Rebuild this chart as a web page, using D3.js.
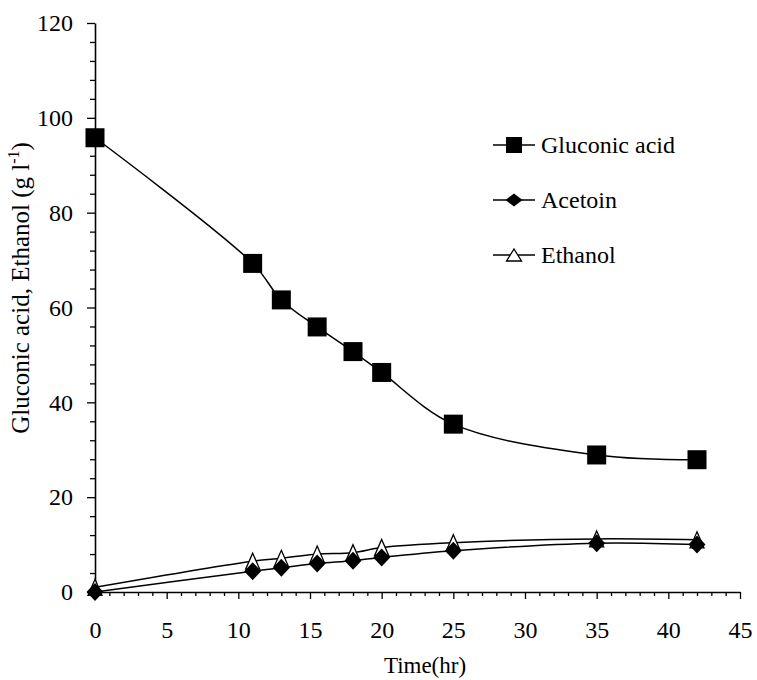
<!DOCTYPE html>
<html>
<head>
<meta charset="utf-8">
<script src="https://cdn.jsdelivr.net/npm/d3@7"></script>
</head>
<body style="margin:0;padding:0;background:#fff">
<svg id="chart" width="757" height="680" style="display:block"></svg>
<script>
// ---- data ----
const time = [0, 11, 13, 15.5, 18, 20, 25, 35, 42];
const gluconic = [95.8, 69.3, 61.6, 55.9, 50.7, 46.3, 35.4, 28.9, 27.9];
const acetoin = [0, 4.4, 5.1, 6.0, 6.6, 7.3, 8.7, 10.3, 10.0];
const ethanol = [1.0, 6.5, 7.1, 8.0, 8.3, 9.4, 10.4, 11.2, 11.0];
const seriesNames = ["Gluconic acid", "Acetoin", "Ethanol"];
const xTicks = [0, 5, 10, 15, 20, 25, 30, 35, 40, 45];
const yTicks = [0, 20, 40, 60, 80, 100, 120];
const xLabel = "Time(hr)";

const FONT = "'Liberation Serif'";
const svg = d3.select("#chart");
const x = d3.scaleLinear().domain([0, 45]).range([95, 740]);
const y = d3.scaleLinear().domain([0, 120]).range([592, 23]);

// minor ticks
const xMinor = d3.range(0, 46, 1).filter(v => v % 5 !== 0);
const yMinor = d3.range(0, 121, 4).filter(v => v % 20 !== 0);

svg.append("g").attr("transform", `translate(0,${y(0)})`)
  .call(d3.axisBottom(x).tickValues(xMinor).tickSize(4).tickFormat(""))
  .call(g => g.select(".domain").remove())
  .call(g => g.selectAll("text").remove())
  .selectAll("line").attr("stroke", "#000").attr("stroke-width", 1.3);

svg.append("g").attr("transform", `translate(${x(0)},0)`)
  .call(d3.axisLeft(y).tickValues(yMinor).tickSize(5).tickFormat(""))
  .call(g => g.select(".domain").remove())
  .call(g => g.selectAll("text").remove())
  .selectAll("line").attr("stroke", "#000").attr("stroke-width", 1.3);

const xAxis = svg.append("g").attr("transform", `translate(0,${y(0)})`)
  .call(d3.axisBottom(x).tickValues(xTicks).tickSize(7).tickSizeOuter(0).tickPadding(22).tickFormat(d3.format("d")));
const yAxis = svg.append("g").attr("transform", `translate(${x(0)},0)`)
  .call(d3.axisLeft(y).tickValues(yTicks).tickSize(8).tickSizeOuter(0).tickPadding(14).tickFormat(d3.format("d")));

[xAxis, yAxis].forEach(g => {
  g.attr("font-family", FONT).attr("font-size", 24);
  g.select(".domain").attr("stroke", "#000").attr("stroke-width", 1.6);
  g.selectAll(".tick line").attr("stroke", "#000").attr("stroke-width", 1.3);
  g.selectAll(".tick text").style("font-family", FONT).style("font-size", "24px").attr("fill", "#000");
});

// axis titles
svg.append("text").attr("x", 425).attr("y", 673).attr("text-anchor", "middle")
  .style("font-family", FONT).style("font-size", "23px").text(xLabel);

const yl = svg.append("text").attr("transform", "translate(29,288) rotate(-90)")
  .attr("text-anchor", "middle").style("font-family", FONT).style("font-size", "25px");
yl.append("tspan").text("Gluconic acid, Ethanol (g l");
yl.append("tspan").style("font-size", "16px").attr("dy", -10).text("-1");
yl.append("tspan").attr("dy", 10).text(")");

// lines
const line = d3.line().x(d => x(d[0])).y(d => y(d[1])).curve(d3.curveCatmullRom.alpha(0.5));
const toPts = vals => time.map((t, i) => [t, vals[i]]);
[gluconic, ethanol, acetoin].forEach(vals => {
  svg.append("path").datum(toPts(vals)).attr("d", line)
    .attr("fill", "none").attr("stroke", "#000").attr("stroke-width", 1.5);
});

// marker shapes
function square(g, cx, cy, s) {
  g.append("rect").attr("x", cx - s / 2).attr("y", cy - s / 2).attr("width", s).attr("height", s).attr("fill", "#000");
}
function diamond(g, cx, cy, w, h) {
  g.append("path").attr("d", `M${cx},${cy - h / 2}L${cx + w / 2},${cy}L${cx},${cy + h / 2}L${cx - w / 2},${cy}Z`).attr("fill", "#000");
}
function triangle(g, cx, cy, w, h) {
  g.append("path").attr("d", `M${cx},${cy - h / 2}L${cx + w / 2},${cy + h / 2}L${cx - w / 2},${cy + h / 2}Z`)
    .attr("fill", "#fff").attr("stroke", "#000").attr("stroke-width", 1.3);
}

const mk = svg.append("g");
toPts(ethanol).forEach(d => triangle(mk, x(d[0]), y(d[1]), 14, 16));
toPts(acetoin).forEach(d => diamond(mk, x(d[0]), y(d[1]), 17, 18));
toPts(gluconic).forEach(d => square(mk, x(d[0]), y(d[1]), 19));

// legend
const lg = svg.append("g");
const rowsY = [145, 200, 255];
seriesNames.forEach((name, i) => {
  const cy = rowsY[i];
  lg.append("line").attr("x1", 493).attr("x2", 535).attr("y1", cy).attr("y2", cy).attr("stroke", "#000").attr("stroke-width", 1.5);
  if (i === 0) square(lg, 514, cy, 16);
  if (i === 1) diamond(lg, 514, cy, 17, 13);
  if (i === 2) triangle(lg, 514, cy, 15, 12);
  lg.append("text").attr("x", 541).attr("y", cy + 8).style("font-family", FONT).style("font-size", "24px").text(name);
});
</script>
</body>
</html>
